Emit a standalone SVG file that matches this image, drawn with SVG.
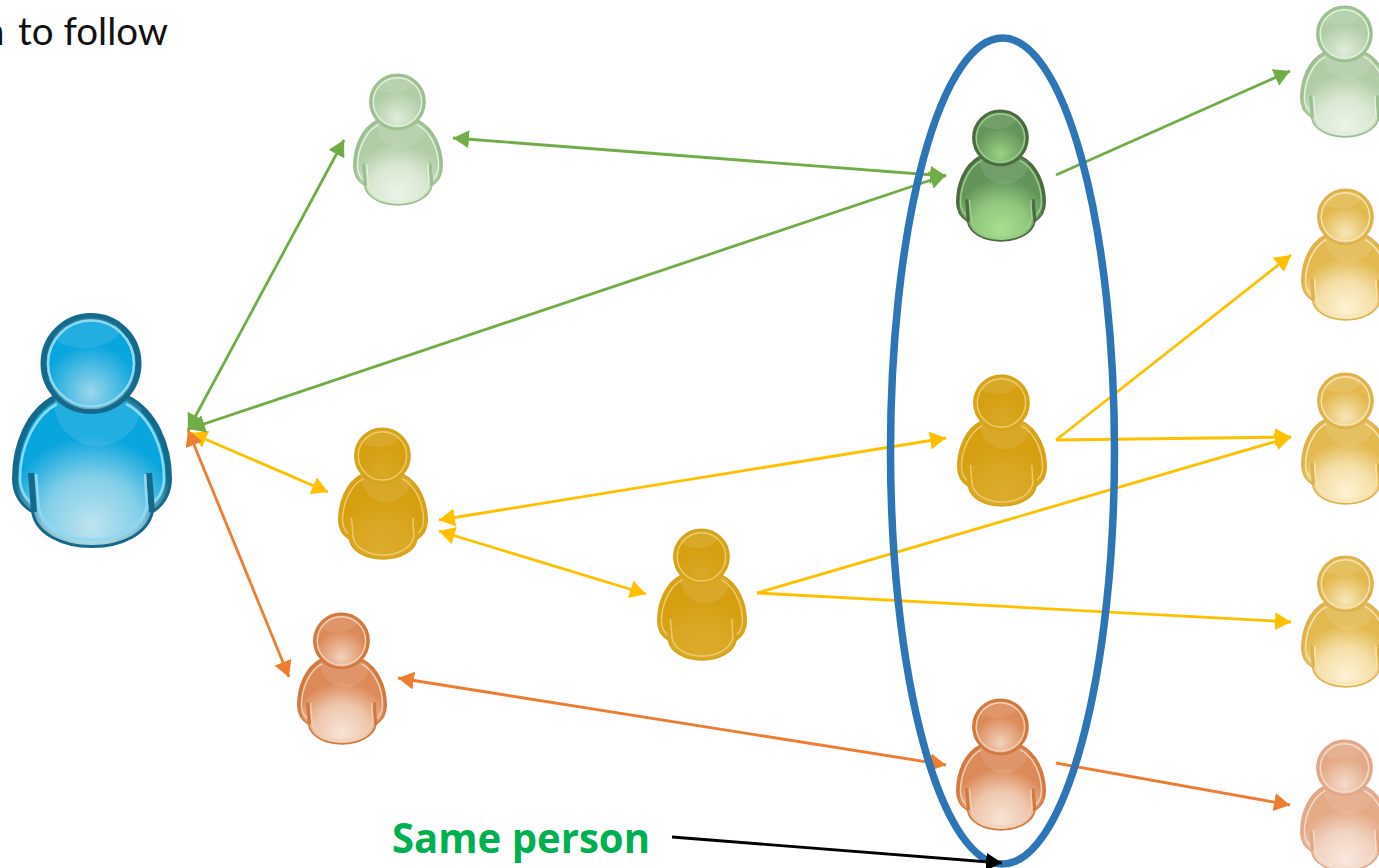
<svg xmlns="http://www.w3.org/2000/svg" width="1379" height="868" viewBox="0 0 1379 868">
<style>
.conn{fill:none;stroke-width:2.8}
.g{stroke:#70ad47;marker-end:url(#ag)}.gb{marker-start:url(#ag)}
.y{stroke:#ffc000;marker-end:url(#ay)}.yb{marker-start:url(#ay)}
.o{stroke:#ed7d31;marker-end:url(#ao)}.ob{marker-start:url(#ao)}
.blue{--s:#156a8b;--i:#8fd8ee;--b:#09a5de;--l:#bfe3ee}
.dgreen{--s:#4d6b41;--i:#9ad08a;--b:#63945a;--l:#a8e08f}
.lgreen{--s:#9cc08f;--i:#e2efdc;--b:#b0cda6;--l:#ecf4e8}
.dyellow{--s:#d6a416;--i:#eccb70;--b:#d59f10;--l:#dcab2c}
.lyellow{--s:#dfb24c;--i:#f6e4b4;--b:#e3b94f;--l:#fdf2d4}
.orange{--s:#d2793f;--i:#f4cfb8;--b:#dc8a58;--l:#f7e4d6}
.lorange{--s:#e3a888;--i:#f5dccd;--b:#e4a985;--l:#f8e8de}
.sk{stroke:var(--s);stroke-width:6;fill:var(--b)}
.in{stroke:var(--i);stroke-width:2.6;fill:none}
.lt{fill:var(--l);stroke:none}
.hl{fill:#fff;fill-opacity:.1;stroke:none}
.arm{stroke:var(--s);stroke-width:6;fill:none}
text{font-family:Lato,"Liberation Sans",sans-serif}
.strong{font-family:"Open Sans","Liberation Sans",sans-serif}
</style>
<defs>
<marker id="ag" markerUnits="userSpaceOnUse" markerWidth="18" markerHeight="18" refX="16" refY="9" orient="auto-start-reverse"><path d="M0,0L16,9L0,18z" fill="#70ad47"/></marker>
<marker id="ay" markerUnits="userSpaceOnUse" markerWidth="18" markerHeight="18" refX="16" refY="9" orient="auto-start-reverse"><path d="M0,0L16,9L0,18z" fill="#ffc000"/></marker>
<marker id="ao" markerUnits="userSpaceOnUse" markerWidth="18" markerHeight="18" refX="16" refY="9" orient="auto-start-reverse"><path d="M0,0L16,9L0,18z" fill="#ed7d31"/></marker>
<marker id="ak" markerUnits="userSpaceOnUse" markerWidth="18" markerHeight="18" refX="16" refY="9" orient="auto"><path d="M0,0L16,9L0,18z" fill="#000"/></marker>
<radialGradient id="gb" gradientUnits="userSpaceOnUse" cx="80" cy="212" r="90"><stop offset="0" stop-color="#fff"/><stop offset=".55" stop-color="#aaa"/><stop offset="1" stop-color="#000"/></radialGradient>
<radialGradient id="gh" gradientUnits="userSpaceOnUse" cx="79" cy="78" r="48"><stop offset="0" stop-color="#ccc"/><stop offset="1" stop-color="#000"/></radialGradient>
<mask id="mb" maskUnits="userSpaceOnUse" x="0" y="0" width="160" height="233"><rect width="160" height="233" fill="url(#gb)"/></mask>
<mask id="mh" maskUnits="userSpaceOnUse" x="0" y="0" width="160" height="233"><rect width="160" height="233" fill="url(#gh)"/></mask>
<clipPath id="cb"><path d="M43,84C16,98 3,132 3,164C3,180 10,190 22,197C25,218 50,231 80,231C110,231 135,218 139,197C150,190 157,180 157,164C157,132 143,98 115,84Z"/></clipPath>
<clipPath id="ch"><circle cx="79" cy="49.5" r="46"/></clipPath>
<g id="person">
<path class="sk" d="M43,84C16,98 3,132 3,164C3,180 10,190 22,197C25,218 50,231 80,231C110,231 135,218 139,197C150,190 157,180 157,164C157,132 143,98 115,84Z"/>
<g clip-path="url(#cb)">
<rect class="lt" width="160" height="233" mask="url(#mb)"/>
<ellipse class="hl" cx="86" cy="88" rx="44" ry="44"/>
</g>
<path class="in" d="M45,90C22,102 8,134 8,164C8,176 14,186 24,192M114,90C138,102 152,134 152,164C152,176 146,186 136,192M27,194C30,212 52,226 80,226C108,226 131,212 134,194"/>
<path class="arm" d="M19,159L22,198M137,159L140,198"/>
<path class="in" d="M24,160L27,196M133,160L135,196"/>
<circle class="sk" cx="79" cy="49.5" r="47.5"/>
<g clip-path="url(#ch)">
<circle class="lt" cx="79" cy="49.5" r="46" mask="url(#mh)"/>
<ellipse class="hl" cx="72" cy="10" rx="38" ry="24"/>
</g>
<circle class="in" cx="79" cy="49.5" r="43"/>
</g>
</defs>
<rect width="1379" height="868" fill="#fff"/>
<g id="user-main" class="blue"><use href="#person" transform="translate(12,314)"/></g>
<g id="green-1" class="lgreen"><use href="#person" transform="translate(353,74) scale(.5625)"/></g>
<g id="green-2" class="dgreen"><use href="#person" transform="translate(956,110) scale(.5625)"/></g>
<g id="green-3" class="lgreen"><use href="#person" transform="translate(1300,6) scale(.5625)"/></g>
<g id="yellow-1" class="dyellow"><use href="#person" transform="translate(338,428) scale(.5625)"/></g>
<g id="yellow-2" class="dyellow"><use href="#person" transform="translate(657,529) scale(.5625)"/></g>
<g id="yellow-3" class="dyellow"><use href="#person" transform="translate(957,375) scale(.5625)"/></g>
<g id="yellow-4" class="lyellow"><use href="#person" transform="translate(1301,189) scale(.5625)"/></g>
<g id="yellow-5" class="lyellow"><use href="#person" transform="translate(1301,373) scale(.5625)"/></g>
<g id="yellow-6" class="lyellow"><use href="#person" transform="translate(1301,556) scale(.5625)"/></g>
<g id="orange-1" class="orange"><use href="#person" transform="translate(297,613) scale(.5625)"/></g>
<g id="orange-2" class="orange"><use href="#person" transform="translate(956,699) scale(.5625)"/></g>
<g id="orange-3" class="lorange"><use href="#person" transform="translate(1300,740) scale(.5625)"/></g>
<g id="connectors">
<line class="conn y yb" x1="191" y1="433" x2="328" y2="492"/>
<line class="conn o ob" x1="188" y1="430" x2="289" y2="677"/>
<line class="conn g gb" x1="188" y1="430" x2="344" y2="140"/>
<line class="conn g gb" x1="189" y1="429" x2="946" y2="175"/>
<line class="conn g gb" x1="453" y1="138" x2="946" y2="176"/>
<line class="conn g" x1="1056" y1="175" x2="1290" y2="71"/>
<line class="conn y yb" x1="439" y1="520" x2="946" y2="438"/>
<line class="conn y yb" x1="439" y1="531" x2="646" y2="594"/>
<line class="conn y" x1="757" y1="593" x2="1291" y2="437"/>
<line class="conn y" x1="757" y1="593" x2="1291" y2="622"/>
<line class="conn y" x1="1056" y1="440" x2="1291" y2="255"/>
<line class="conn y" x1="1056" y1="440" x2="1291" y2="437"/>
<line class="conn o ob" x1="398" y1="678" x2="946" y2="765"/>
<line class="conn o" x1="1056" y1="763" x2="1290" y2="805"/>
</g>
<g id="same-person-ring"><ellipse cx="1002.5" cy="451" rx="112" ry="413" fill="none" stroke="#2e75b6" stroke-width="7.5"/></g>
<g id="pointer"><line class="conn" stroke="#000" marker-end="url(#ak)" x1="672" y1="837" x2="1002" y2="863"/></g>
<g id="labels">
<text y="45" font-size="38.5" fill="#111"><tspan x="-17">n</tspan><tspan x="18">to follow</tspan></text>
<text class="strong" x="392" y="853" font-size="42" font-weight="700" fill="#00b050" textLength="258" lengthAdjust="spacingAndGlyphs">Same person</text>
</g>
</svg>
